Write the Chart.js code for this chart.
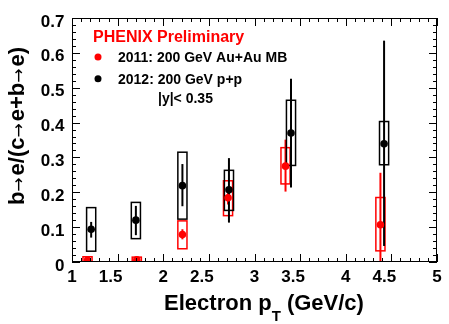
<!DOCTYPE html>
<html><head><meta charset="utf-8">
<script src="https://cdn.jsdelivr.net/npm/chart.js@4"></script>
<style>html,body{margin:0;padding:0;background:#fff}canvas{display:block}</style>
</head><body>
<canvas id="c" width="449" height="324"></canvas>
<script>
// 2012: 200 GeV p+p (black)
const ppPt     = [1.21, 1.70, 2.21, 2.72, 3.40, 4.42];
const ppVal    = [0.094, 0.120, 0.219, 0.207, 0.370, 0.339];
const ppStatLo = [0.070, 0.077, 0.160, 0.113, 0.214, 0.046];
const ppStatHi = [0.115, 0.161, 0.281, 0.298, 0.526, 0.635];
const ppSysLo  = [0.031, 0.067, 0.123, 0.148, 0.277, 0.279];
const ppSysHi  = [0.156, 0.171, 0.315, 0.263, 0.464, 0.403];

// 2011: 200 GeV Au+Au MB (red)
const auPt     = [1.17, 1.71, 2.21, 2.71, 3.34, 4.38];
const auVal    = [0.005, 0.006, 0.079, 0.184, 0.275, 0.107];
const auStatLo = [0.000, 0.000, 0.065, 0.165, 0.202, -0.050];
const auStatHi = [0.010, 0.012, 0.094, 0.200, 0.351, 0.256];
const auSysLo  = [0.000, 0.001, 0.038, 0.133, 0.224, 0.032];
const auSysHi  = [0.015, 0.014, 0.118, 0.233, 0.328, 0.185];

const xTickLabels = ['1','1.5','2','2.5','3','3.5','4','4.5','5'];
const yTickLabels = ['0','0.1','0.2','0.3','0.4','0.5','0.6','0.7'];
const yTitleParts = ['b', '\u2192', 'e/(c', '\u2192', 'e+b', '\u2192', 'e)'];

const FONT = '"Liberation Sans", Arial, Helvetica, sans-serif';
const ARROW_FONT = '17px "DejaVu Sans", sans-serif';
const RED = '#ff0000';
const BOX_HALF = 0.05;

function seriesDraw(ctx, x, y, pts, sLo, sHi, eLo, eHi, color) {
  ctx.strokeStyle = color;
  ctx.lineWidth = 1.5;
  for (let i = 0; i < pts.length; i++) {
    const l = x.getPixelForValue(pts[i] - BOX_HALF), r = x.getPixelForValue(pts[i] + BOX_HALF);
    const t = y.getPixelForValue(sHi[i]), b = y.getPixelForValue(sLo[i]);
    ctx.strokeRect(l, t, r - l, b - t);
  }
  ctx.lineWidth = 2;
  for (let i = 0; i < pts.length; i++) {
    const px = x.getPixelForValue(pts[i]);
    ctx.beginPath();
    ctx.moveTo(px, y.getPixelForValue(eLo[i]));
    ctx.lineTo(px, y.getPixelForValue(eHi[i]));
    ctx.stroke();
  }
}

const decor = {
  id: 'decor',
  beforeDatasetsDraw(chart) {
    const {ctx, chartArea: a, scales: {x, y}} = chart;
    ctx.save();
    ctx.beginPath(); ctx.rect(a.left, a.top, a.right - a.left, a.bottom - a.top); ctx.clip();
    seriesDraw(ctx, x, y, auPt, auSysLo, auSysHi, auStatLo, auStatHi, RED);
    seriesDraw(ctx, x, y, ppPt, ppSysLo, ppSysHi, ppStatLo, ppStatHi, '#000');
    ctx.restore();
  },
  afterDraw(chart) {
    const {ctx, chartArea: a, scales: {x, y}} = chart;
    ctx.save();
    // frame
    ctx.strokeStyle = '#000'; ctx.lineWidth = 1;
    ctx.strokeRect(Math.round(a.left) + 0.5, Math.round(a.top) + 0.5,
                   Math.round(a.right - a.left) - 1, Math.round(a.bottom - a.top) - 1);
    // ticks
    ctx.beginPath();
    for (let i = 0; i <= 35; i++) {
      const py = Math.round(y.getPixelForValue(i * 0.02)) + 0.5;
      const len = i % 5 === 0 ? 8 : 4;
      ctx.moveTo(a.left, py); ctx.lineTo(a.left + len, py);
      ctx.moveTo(a.right, py); ctx.lineTo(a.right - len, py);
    }
    for (let i = 0; i <= 40; i++) {
      const px = Math.round(x.getPixelForValue(1 + i * 0.1)) + 0.5;
      const len = i % 5 === 0 ? 8 : 4;
      ctx.moveTo(px, a.bottom); ctx.lineTo(px, a.bottom - len);
      ctx.moveTo(px, a.top); ctx.lineTo(px, a.top + len);
    }
    ctx.stroke();
    // tick labels
    ctx.fillStyle = '#000';
    ctx.font = 'bold 17px ' + FONT;
    ctx.textAlign = 'center'; ctx.textBaseline = 'alphabetic';
    xTickLabels.forEach(s => {
      const v = parseFloat(s);
      const shift = s.indexOf('.') >= 0 ? -7 : 0;
      ctx.fillText(s, x.getPixelForValue(v) + shift, a.bottom + 20);
    });
    ctx.textAlign = 'right';
    yTickLabels.forEach(s => {
      const v = parseFloat(s);
      ctx.fillText(s, a.left - 7.5, y.getPixelForValue(v) + 8.5);
    });
    // x title
    ctx.textAlign = 'left';
    const f1 = 'bold 22px ' + FONT, f2 = 'bold 15px ' + FONT;
    const p1 = 'Electron p', p2 = 'T', p3 = ' (GeV/c)';
    ctx.font = f1; const w1 = ctx.measureText(p1).width, w3 = ctx.measureText(p3).width;
    ctx.font = f2; const w2 = ctx.measureText(p2).width;
    let sx = 264 - (w1 + w2 + w3) / 2;
    const by = 310;
    ctx.font = f1; ctx.fillText(p1, sx, by); sx += w1;
    ctx.font = f2; ctx.fillText(p2, sx, by + 11); sx += w2;
    ctx.font = f1; ctx.fillText(p3, sx, by);
    // y title (rotated), arrows in a thin font
    ctx.save();
    ctx.translate(23.5, 126);
    ctx.rotate(-Math.PI / 2);
    ctx.textBaseline = 'alphabetic'; ctx.textAlign = 'left';
    const fontFor = p => p === '\u2192' ? ARROW_FONT : 'bold 22px ' + FONT;
    const gap = 2;
    let total = 0;
    const widths = yTitleParts.map(p => { ctx.font = fontFor(p); const w = ctx.measureText(p).width + (p === '\u2192' ? gap : 0); total += w; return w; });
    let tx = -total / 2;
    yTitleParts.forEach((p, i) => { ctx.font = fontFor(p); ctx.fillText(p, tx, 0); tx += widths[i]; });
    ctx.restore();
    // legend
    ctx.textAlign = 'left'; ctx.textBaseline = 'alphabetic';
    ctx.fillStyle = RED; ctx.font = 'bold 16px ' + FONT;
    ctx.fillText('PHENIX Preliminary', 93, 41.5);
    ctx.beginPath(); ctx.arc(98, 57, 3.5, 0, Math.PI * 2); ctx.fill();
    ctx.fillStyle = '#000';
    ctx.beginPath(); ctx.arc(98, 78.7, 3.5, 0, Math.PI * 2); ctx.fill();
    ctx.font = 'bold 14px ' + FONT;
    ctx.fillText('2011: 200 GeV Au+Au MB', 118, 62);
    ctx.fillText('2012: 200 GeV p+p', 118, 84);
    ctx.fillText('|y|< 0.35', 158, 103);
    ctx.restore();
  }
};

new Chart(document.getElementById('c'), {
  type: 'scatter',
  data: {
    datasets: [
      { label: '2012: 200 GeV p+p', data: ppPt.map((v, i) => ({x: v, y: ppVal[i]})),
        pointRadius: 3.8, pointBackgroundColor: '#000', pointBorderWidth: 0, pointBorderColor: '#000' },
      { label: '2011: 200 GeV Au+Au MB', data: auPt.map((v, i) => ({x: v, y: auVal[i]})),
        pointRadius: 3.8, pointBackgroundColor: RED, pointBorderWidth: 0, pointBorderColor: RED }
    ]
  },
  options: {
    responsive: false, animation: false, devicePixelRatio: 1,
    layout: { padding: { top: 18, right: 12, left: 0, bottom: 0 } },
    plugins: { legend: { display: false }, tooltip: { enabled: false } },
    scales: {
      x: { type: 'linear', min: 1, max: 5,
           ticks: { display: false }, grid: { display: false }, border: { display: false },
           afterFit: s => { s.height = 62; } },
      y: { type: 'linear', min: 0, max: 0.7,
           ticks: { display: false }, grid: { display: false }, border: { display: false },
           afterFit: s => { s.width = 72; } }
    }
  },
  plugins: [decor]
});
</script>
</body></html>
